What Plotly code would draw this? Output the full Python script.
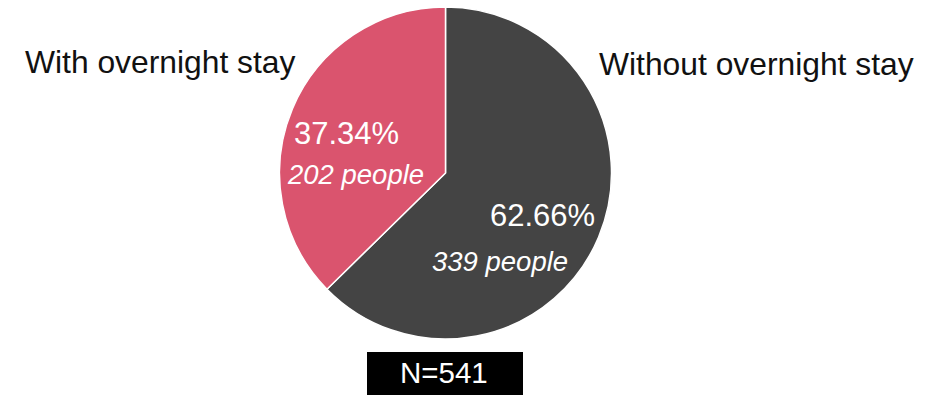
import plotly.graph_objects as go

# Survey responses: trips without and with an overnight stay
categories = ["Without overnight stay", "With overnight stay"]
people = [339, 202]
slice_colors = ["#444444", "#DA546E"]

total = sum(people)
shares = [p / total * 100 for p in people]

W, H = 935, 395
FONT = "Liberation Sans, Arial, sans-serif"


def px(x):
    return x / W


def py(y):
    return 1 - y / H


# counterclockwise: the first slice sits right of 12 o'clock, the second left of it
fig = go.Figure(
    go.Pie(
        labels=categories,
        values=people,
        sort=False,
        direction="counterclockwise",
        rotation=0,
        marker=dict(colors=slice_colors, line=dict(color="white", width=1.5)),
        textinfo="none",
        hoverinfo="label+value+percent",
        showlegend=False,
        domain=dict(x=[px(279), px(612)], y=[py(339), py(7)]),
    )
)

# label placement (pixel centres) for each category
name_pos = [(756, 64), (160, 62)]
pct_pos = [(542, 215), (346, 133)]
cnt_pos = [(500, 261), (355, 174)]

annotations = []
for i, cat in enumerate(categories):
    annotations.append(dict(
        text=cat, x=px(name_pos[i][0]), y=py(name_pos[i][1]),
        xref="paper", yref="paper", showarrow=False,
        xanchor="center", yanchor="middle",
        font=dict(family=FONT, size=31.8, color="#111111"),
    ))
    annotations.append(dict(
        text=f"{shares[i]:.2f}%", x=px(pct_pos[i][0]), y=py(pct_pos[i][1]),
        xref="paper", yref="paper", showarrow=False,
        xanchor="center", yanchor="middle",
        font=dict(family=FONT, size=31, color="white"),
    ))
    annotations.append(dict(
        text=f"<i>{people[i]} people</i>", x=px(cnt_pos[i][0]), y=py(cnt_pos[i][1]),
        xref="paper", yref="paper", showarrow=False,
        xanchor="center", yanchor="middle",
        font=dict(family=FONT, size=27.5, color="white"),
    ))

# sample size badge
annotations.append(dict(
    text=f"N={total}", x=px(444), y=py(372),
    xref="paper", yref="paper", showarrow=False,
    xanchor="center", yanchor="middle",
    font=dict(family=FONT, size=29.5, color="white"),
))

fig.update_layout(
    width=W, height=H,
    margin=dict(l=0, r=0, t=0, b=0),
    paper_bgcolor="white",
    plot_bgcolor="white",
    annotations=annotations,
    shapes=[dict(
        type="rect", xref="paper", yref="paper",
        x0=px(367), x1=px(523), y0=py(395), y1=py(352),
        fillcolor="black", line=dict(width=0), layer="below",
    )],
)

fig.write_html("out.html")
